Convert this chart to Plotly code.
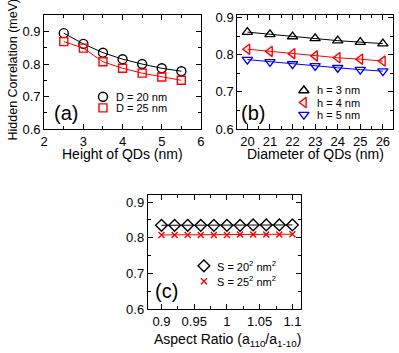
import plotly.graph_objects as go

# --- data --------------------------------------------------------------
height_nm = [2.5, 3.0, 3.5, 4.0, 4.5, 5.0, 5.5]
corr_d20 = [0.895, 0.862, 0.835, 0.815, 0.800, 0.787, 0.778]
corr_d25 = [0.869, 0.849, 0.807, 0.787, 0.772, 0.760, 0.750]

diameter_nm = [20, 21, 22, 23, 24, 25, 26]
corr_h3 = [0.861, 0.855, 0.849, 0.844, 0.838, 0.834, 0.830]
corr_h4 = [0.815, 0.809, 0.803, 0.797, 0.792, 0.788, 0.783]
corr_h5 = [0.787, 0.781, 0.775, 0.770, 0.765, 0.760, 0.756]

aspect_ratio = [0.90, 0.92, 0.94, 0.96, 0.98, 1.00, 1.02, 1.04, 1.06, 1.08, 1.10]
corr_s20 = [0.835, 0.835, 0.835, 0.835, 0.835, 0.835, 0.835, 0.836, 0.836, 0.836, 0.836]
corr_s25 = [0.808, 0.808, 0.808, 0.808, 0.808, 0.808, 0.809, 0.809, 0.809, 0.809, 0.810]

W, H = 399, 353
FONT = "Liberation Sans, Arial, sans-serif"
BLACK = "#000000"
RED = "#ff0000"
BLUE = "#0000ff"


def px_x(a, b):
    return [a / W, b / W]


def px_y(top, bottom):
    return [1 - bottom / H, 1 - top / H]


fig = go.Figure()


def marker(color, symbol, size):
    return dict(symbol=symbol, size=size, color=color, line=dict(color=color, width=1.4))


def add_series(x, y, color, symbol, size, xa, ya):
    fig.add_trace(go.Scatter(
        x=x, y=y, mode="lines+markers", xaxis=xa, yaxis=ya, showlegend=False,
        line=dict(color=color, width=1), marker=marker(color, symbol, size),
    ))


add_series(height_nm, corr_d20, BLACK, "circle-open", 9, "x", "y")
add_series(height_nm, corr_d25, RED, "square-open", 8, "x", "y")

add_series(diameter_nm, corr_h3, BLACK, "triangle-up-open", 9, "x2", "y2")
add_series(diameter_nm, corr_h4, RED, "triangle-left-open", 9, "x2", "y2")
add_series(diameter_nm, corr_h5, BLUE, "triangle-down-open", 9, "x2", "y2")

add_series(aspect_ratio, corr_s20, BLACK, "diamond-open", 9, "x3", "y3")
add_series(aspect_ratio, corr_s25, RED, "x-thin-open", 6, "x3", "y3")

# hand-made legends: (marker x, marker y, text, colour, symbol, size) in page pixels
legend_items = [
    (101, 96, "D = 20 nm", BLACK, "circle-open", 9),
    (101, 107.5, "D = 25 nm", RED, "square-open", 8),
    (306, 89.5, "h = 3 nm", BLACK, "triangle-up-open", 9),
    (306, 102, "h = 4 nm", RED, "triangle-left-open", 9),
    (306, 114.5, "h = 5 nm", BLUE, "triangle-down-open", 9),
    (204, 271, "S = 20<sup>2</sup> nm<sup>2</sup>", BLACK, "diamond-open", 9),
    (204, 287, "S = 25<sup>2</sup> nm<sup>2</sup>", RED, "x-thin-open", 6),
]
for lx, ly, text, color, symbol, size in legend_items:
    fig.add_trace(go.Scatter(
        x=[lx], y=[ly], mode="markers", xaxis="x4", yaxis="y4", showlegend=False,
        marker=marker(color, symbol, size), hoverinfo="skip",
    ))
    fig.add_annotation(text=text, x=(lx + 11) / W, y=1 - ly / H, xref="paper", yref="paper",
                       xanchor="left", yanchor="middle", showarrow=False,
                       font=dict(size=11, color=BLACK, family=FONT))


def axis_style(domain, rng, dtick, minor_dtick, anchor, tick0):
    return dict(
        domain=domain, range=rng, dtick=dtick, tick0=tick0, anchor=anchor,
        showgrid=False, zeroline=False, showline=True, linecolor=BLACK, linewidth=1,
        mirror="allticks", ticks="inside", ticklen=5, tickwidth=1, tickcolor=BLACK,
        tickfont=dict(size=13, color=BLACK, family=FONT),
        minor=dict(ticks="inside", ticklen=3, tickwidth=1, tickcolor=BLACK, dtick=minor_dtick),
    )


top_row = (11, 129.5)
fig.update_layout(
    width=W, height=H,
    margin=dict(l=0, r=0, t=0, b=0),
    paper_bgcolor="white", plot_bgcolor="rgba(0,0,0,0)",
    font=dict(family=FONT, color=BLACK),
    showlegend=False,
    xaxis=axis_style(px_x(41, 201), [2, 6], 1, 0.5, "y", 2),
    yaxis=axis_style(px_y(*top_row), [0.6, 0.952], 0.1, 0.05, "x", 0.6),
    xaxis2=axis_style(px_x(238, 397), [19.55, 26.45], 1, 0.5, "y2", 20),
    yaxis2=axis_style(px_y(*top_row), [0.6, 0.908], 0.1, 0.05, "x2", 0.6),
    xaxis3=axis_style(px_x(146.7, 303), [0.879, 1.113], 0.05, 0.025, "y3", 0.9),
    yaxis3=axis_style(px_y(198, 316), [0.6, 0.919], 0.1, 0.05, "x3", 0.6),
    # overlay in page pixels for the legend symbols
    xaxis4=dict(domain=[0, 1], range=[0, W], visible=False, anchor="y4", fixedrange=True),
    yaxis4=dict(domain=[0, 1], range=[H, 0], visible=False, anchor="x4", fixedrange=True),
)

# axis titles: (text, x px, y px, angle, size)
titles = [
    ("Height of QDs (nm)", 121, 155, 0, 14),
    ("Diameter of QDs (nm)", 318, 155, 0, 14),
    ("Aspect Ratio (a<sub>110</sub>/a<sub>1-10</sub>)", 228, 348, 0, 14),
    ("Hidden Correlation (meV)", 9, 68, -90, 12.5),
]
for text, x, y, angle, size in titles:
    fig.add_annotation(text=text, x=x / W, y=1 - y / H, xref="paper", yref="paper",
                       xanchor="center", yanchor="middle", showarrow=False, textangle=angle,
                       borderpad=0, font=dict(size=size, color=BLACK, family=FONT))

for label, x, y in [("(a)", 63, 113), ("(b)", 254, 113), ("(c)", 166, 297)]:
    fig.add_annotation(text=label, x=x / W, y=1 - y / H, xref="paper", yref="paper",
                       xanchor="center", yanchor="middle",
                       showarrow=False, font=dict(size=20, color=BLACK, family=FONT))

fig.write_html("out.html", config={"displayModeBar": False},
               post_script="document.body.style.margin='0';")
